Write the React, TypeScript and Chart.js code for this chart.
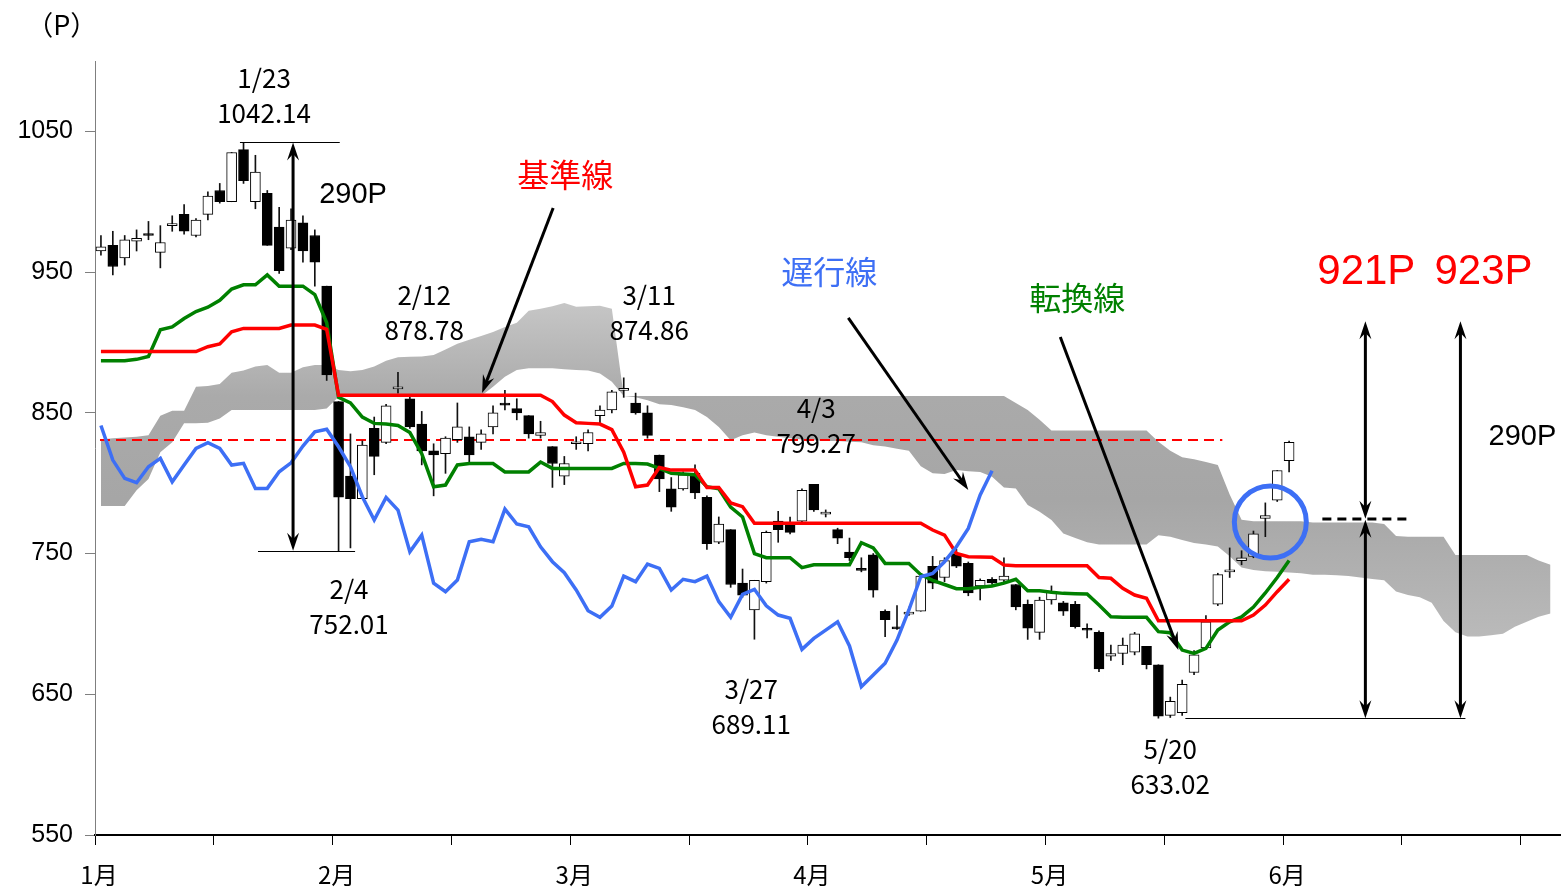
import React, { useEffect, useRef } from "react";
import { Chart, registerables } from "chart.js";

Chart.register(...registerables);

// ---------- axis labels ----------
const monthNames = ["1月", "2月", "3月", "4月", "5月", "6月"];
const xTicks = [0, 10, 20, 30, 40, 50, 60, 70, 80, 90, 100, 110, 120];
const yTicks = [550, 650, 750, 850, 950, 1050];
const X_MAX = 123.3;
const Y_MIN = 550;
const Y_MAX = 1100;

// ---------- candles (daily) ----------
const opens = [
  965, 969, 960, 972, 977, 964, 983, 991, 976, 991,
  1008, 1000, 1037, 1000, 1006, 982, 967, 985, 976, 940,
  858, 805, 789, 839, 829, 867, 860, 842, 823, 821,
  831, 833, 829, 840, 857, 853, 848, 834, 826, 805,
  828, 828, 848, 852, 866, 857, 850, 820, 796, 796,
  807, 790, 758, 767, 729, 710, 730, 773, 772, 773,
  799.27, 778, 767, 751, 739, 749, 709, 697, 707, 709,
  741, 733, 750, 743, 727, 731.6, 731, 728, 714, 694,
  717, 715, 714, 696, 694, 677, 679, 680, 684, 671,
  635, 637, 665.5, 683, 714, 737, 745, 748, 775, 788,
  816,
];
const highs = [
  976, 979, 976, 980, 986, 983, 990, 998, 988, 1007,
  1013, 1035, 1042.14, 1033, 1008, 996, 995, 990, 980, 940,
  858, 835, 830, 847, 856, 878.78, 861, 851, 828, 833,
  857, 840, 838, 855, 866, 860, 848, 844, 826, 819,
  833, 838, 855, 866, 874.86, 864, 855, 820, 804, 808,
  813, 791, 776, 767, 739, 731, 766, 780, 776, 796,
  799.27, 781, 768, 761, 747, 750, 710, 713, 712, 735,
  748, 747, 753, 744, 732, 733, 747, 728, 717, 719,
  727, 716, 716, 700, 695, 685, 690, 694, 684, 671,
  648, 660, 681, 706, 736, 754, 752, 766, 786, 809,
  830,
];
const lows = [
  962, 948, 955, 965, 973, 953, 979, 977, 975, 987,
  999, 1000, 1013, 995, 969, 949, 966, 957, 940, 873,
  752.01, 754, 789, 806, 828, 864, 839, 813, 791, 807,
  829, 814, 824, 835, 852, 845, 832, 832, 797, 799,
  824, 823, 842, 850, 861, 849, 832, 794, 780, 795,
  789, 753, 757, 726, 719, 689.11, 729, 758, 764, 772,
  780, 776, 757, 745, 737, 719, 691, 696, 706, 709,
  725, 730, 740, 720, 717, 728, 730, 710, 689, 689,
  714, 706, 697, 690, 666, 674, 671, 678, 668, 633.02,
  633.5, 635, 664, 682, 713, 733, 742, 747, 762, 787,
  808,
];
const closes = [
  968, 954, 973, 974, 976, 971, 983.5, 979, 987, 1004,
  1000, 1035, 1015, 1021, 969, 951, 987, 965, 957, 877,
  790, 789, 827, 819, 855, 868, 840, 823, 820, 832,
  840, 820, 835, 850, 855.5, 850, 835, 836, 814, 814,
  828.5, 836, 852, 865, 867, 850, 834, 803, 783, 806,
  793, 757, 771, 728, 720.5, 731, 765, 767, 765, 795,
  781, 779.5, 761, 747, 738, 724, 703, 696.5, 708, 734,
  729, 745, 741, 722, 731, 729.2, 734, 712, 697, 717,
  723, 709, 698, 695.5, 668, 679, 685, 693, 671, 634.5,
  645, 657, 678, 701.5, 735, 737.5, 747, 764, 777, 809,
  829,
];

// ---------- ichimoku lines ----------
const tenkan = [
  887, 887, 887, 888, 890, 909, 911, 917, 922, 925,
  930, 938, 941, 941, 948, 940, 940, 940, 934, 914,
  861, 857, 847, 842.5, 842, 841, 836, 821, 797.5, 798.7,
  813, 814, 814, 814, 808, 808, 808, 815, 810.5, 810.5,
  810.5, 810.5, 810.5, 810.5, 814, 814, 813.6, 810.5, 807, 806.5,
  806, 797.5, 796, 783, 776, 750, 747, 747, 747, 740,
  742, 742, 742, 742, 757.7, 754, 743, 743, 743, 735,
  731, 728, 725, 725, 726, 727, 729, 731.7, 723.5, 723.5,
  722.5, 721.7, 721.4, 721.2, 713.4, 705.1, 704.7, 704.7, 704.7, 694.5,
  693.7, 681.4, 679.1, 682.6, 695.6, 701.5, 705, 712, 722, 733,
  745,
];
const kijun = [
  893.5, 893.5, 893.5, 893.5, 893.5, 893.5, 893.5, 893.5, 893.5, 897,
  899, 907.6, 910, 910, 910, 910, 912.4, 912.4, 912.4, 909.3,
  862.5, 862.5, 862.5, 862.5, 862.5, 862.5, 862.5, 862.5, 862.5, 862.5,
  862.5, 862.5, 862.5, 862.5, 862.5, 862.5, 862.5, 862.5, 858, 848.4,
  843, 842.5, 842, 838, 822, 797.5, 798.7, 811.2, 809.3, 809.3,
  809.3, 797, 797, 786, 783.3, 771.5, 771.5, 771.5, 771.5, 771.5,
  771.5, 771.5, 771.5, 771.5, 771.5, 771.5, 771.5, 771.5, 771.5, 771.5,
  766.7, 763.1, 750.1, 747.7, 747.5, 747.3, 741.8, 741.3, 741.3, 741.3,
  741.3, 741.3, 741.3, 741.3, 733, 732.4, 725.3, 720.5, 718.2, 702.2,
  702.2, 702.2, 702.2, 702.2, 702.2, 702.2, 702.2, 706.3, 713.4, 722.9,
  731.7,
];
const chikou = [
  841, 816.4, 803.4, 800.3, 811.7, 817.6, 801, 812.9, 824.7, 828.8,
  824.7, 812.9, 814.1, 796.3, 796.3, 808.1, 814.5, 826.4, 836.5, 838.3,
  825.9, 811.7, 790.4, 773.8, 789.9, 780.9, 751.3, 763.1, 729, 722.9,
  731.2, 758.4, 760.1, 758.4, 781.6, 771, 769, 754.8, 744.2, 736.4,
  724.1, 709.4, 704.7, 712.7, 734, 730, 742.5, 739.5, 724.1, 731.7,
  730, 734, 715.8, 704.7, 721, 724.6, 712.9, 706.3, 704, 681.9,
  689.7, 695.6, 701.5, 684.3, 655.4, 663.7, 672, 688.5, 709.9, 733.5,
  735.9, 744.2, 754.8, 767.9, 791.6, 808.8,
];
const cloudTop = [
  831, 832, 832.5, 833, 834, 848, 851.5, 851.5, 868.5, 869,
  870.5, 878.4, 880, 883, 884, 878.4, 878.4, 882.3, 884, 884,
  880.4, 879.5, 880.4, 883, 887, 889.5, 889.8, 890, 891, 895,
  899, 902, 904.5, 907.5, 911, 914, 922.5, 924, 925.8, 928,
  925.4, 925.8, 926, 924, 862, 862, 862, 862, 862, 862,
  862, 862, 862, 862, 862, 862, 862, 862, 862, 862,
  862, 862, 862, 862, 862, 862, 862, 862, 862, 862,
  862, 862, 862, 862, 862, 862, 862, 857, 852, 845,
  837.5, 837.5, 837.5, 837.5, 837.5, 837.5, 837.5, 837.5, 837.5, 829.5,
  823, 818.5, 817, 815, 813, 792, 774, 773, 773, 773,
  773, 773, 772, 772, 772, 772, 772, 772, 771, 762.5,
  762, 762, 762, 762, 749, 749, 749, 749, 749, 749,
  749, 745, 742,
];
const cloudBottom = [
  783.7, 783.7, 783.7, 795, 803, 822, 829, 842.5, 842.5, 843,
  846, 852, 852, 852, 852, 852, 852, 852, 852, 853,
  861.5, 861.5, 861.5, 861.5, 861.5, 861.5, 861.5, 861.5, 861.5, 861.5,
  861.5, 861.5, 862, 868.5, 875.6, 880.4, 881.6, 881.6, 881.6, 881,
  880.4, 880, 878, 872, 862, 861, 859, 856, 855.5, 854,
  852, 847, 840, 830.5, 834, 836, 834, 833, 832, 831,
  830.5, 830, 830, 829.5, 829, 827, 826, 824.5, 823, 812,
  807, 806.5, 809.3, 808.5, 808, 804.6, 797, 796.3, 784.5, 779.7,
  773.8, 764.3, 761, 758, 756.5, 756.5, 756.5, 756.5, 756.5, 763,
  762, 759.6, 757.5, 756.5, 755, 748, 740, 738.3, 737.5, 737,
  736.5, 736, 735, 735, 734.5, 734, 733, 732, 731, 723,
  720.5, 719, 715, 702, 694, 691, 691, 692, 693, 698,
  701.5, 705, 707.4,
];

// reference level (red dashed) and its span in trading-day units
const refLevel = 830.7;
const refSpan = [0.42, 94.88];

// ---------- annotation content ----------
const BLUE = "#3d6ff5";
const GREEN = "#008000";
const RED = "#ff0000";

type Note = { t: string; x: number; y: number; size: number; color: string; family: string };
const JP = '"Noto Sans CJK JP", sans-serif';
const LAT = '"Liberation Sans", Arial, sans-serif';
const notes: Note[] = [
  { t: "（P）", x: -2.8, y: 1126, size: 27, color: "#000", family: JP },
  { t: "1/23", x: 14.23, y: 1087.9, size: 26, color: "#000", family: JP },
  { t: "1042.14", x: 14.23, y: 1063.1, size: 26, color: "#000", family: JP },
  { t: "2/12", x: 27.7, y: 933.7, size: 26, color: "#000", family: JP },
  { t: "878.78", x: 27.7, y: 908.9, size: 26, color: "#000", family: JP },
  { t: "3/11", x: 46.64, y: 933.7, size: 26, color: "#000", family: JP },
  { t: "874.86", x: 46.64, y: 908.9, size: 26, color: "#000", family: JP },
  { t: "4/3", x: 60.7, y: 853.4, size: 26, color: "#000", family: JP },
  { t: "799.27", x: 60.7, y: 828.6, size: 26, color: "#000", family: JP },
  { t: "2/4", x: 21.38, y: 724.8, size: 26, color: "#000", family: JP },
  { t: "752.01", x: 21.38, y: 699.9, size: 26, color: "#000", family: JP },
  { t: "3/27", x: 55.23, y: 653.7, size: 26, color: "#000", family: JP },
  { t: "689.11", x: 55.23, y: 628.9, size: 26, color: "#000", family: JP },
  { t: "5/20", x: 90.5, y: 611.1, size: 26, color: "#000", family: JP },
  { t: "633.02", x: 90.5, y: 586.2, size: 26, color: "#000", family: JP },
  { t: "290P", x: 21.72, y: 1004.8, size: 29, color: "#000", family: LAT },
  { t: "290P", x: 120.14, y: 832.8, size: 29, color: "#000", family: LAT },
  { t: "基準線", x: 39.57, y: 1019, size: 32, color: RED, family: JP },
  { t: "遅行線", x: 61.8, y: 950.1, size: 32, color: BLUE, family: JP },
  { t: "転換線", x: 82.67, y: 931.6, size: 32, color: GREEN, family: JP },
  { t: "921P", x: 107.0, y: 950.1, size: 42, color: RED, family: LAT },
  { t: "923P", x: 116.86, y: 950.1, size: 42, color: RED, family: LAT },
];

type Seg = { a: [number, number]; b: [number, number]; head: 0 | 1 | 2 };
const arrows: Seg[] = [
  { a: [16.67, 1042.14], b: [16.67, 752.01], head: 2 },
  { a: [38.56, 995.5], b: [32.58, 864.1], head: 1 },
  { a: [63.4, 917.4], b: [73.5, 795.2], head: 1 },
  { a: [81.24, 903.9], b: [91.18, 681.5], head: 1 },
  { a: [106.92, 915], b: [106.92, 774.8], head: 2 },
  { a: [106.92, 774.0], b: [106.92, 633.02], head: 2 },
  { a: [114.92, 915], b: [114.92, 633.02], head: 2 },
];
const thinLines: Seg[] = [
  { a: [12.2, 1042.14], b: [20.6, 1042.14], head: 0 },
  { a: [13.72, 752.01], b: [21.89, 752.01], head: 0 },
  { a: [91.77, 633.02], b: [115.34, 633.02], head: 0 },
];
const midDash: Seg = { a: [103.3, 774.5], b: [110.7, 774.5], head: 0 };
const circleAt: [number, number] = [98.92, 772.4];

function drawHead(ctx: CanvasRenderingContext2D, x1: number, y1: number, x2: number, y2: number) {
  const len = 18;
  const half = 6;
  const ang = Math.atan2(y2 - y1, x2 - x1);
  const c = Math.cos(ang);
  const s = Math.sin(ang);
  const bx = x2 - len * c;
  const by = y2 - len * s;
  const nx = x2 - len * 0.65 * c;
  const ny = y2 - len * 0.65 * s;
  ctx.beginPath();
  ctx.moveTo(x2, y2);
  ctx.lineTo(bx - half * s, by + half * c);
  ctx.lineTo(nx, ny);
  ctx.lineTo(bx + half * s, by - half * c);
  ctx.closePath();
  ctx.fill();
}

const annotationPlugin = {
  id: "ichimokuNotes",
  afterDatasetsDraw(chart: any) {
    const ctx: CanvasRenderingContext2D = chart.ctx;
    const xs = chart.scales.x;
    const ys = chart.scales.y;
    const px = (v: number) => xs.getPixelForValue(v);
    const py = (v: number) => ys.getPixelForValue(v);
    ctx.save();

    // thin reference lines
    ctx.strokeStyle = "#000";
    ctx.lineWidth = 1;
    for (const l of thinLines) {
      ctx.beginPath();
      ctx.moveTo(px(l.a[0]), Math.round(py(l.a[1])) + 0.5);
      ctx.lineTo(px(l.b[0]), Math.round(py(l.b[1])) + 0.5);
      ctx.stroke();
    }

    // dashed black level
    ctx.setLineDash([9, 6]);
    ctx.lineWidth = 3;
    ctx.beginPath();
    ctx.moveTo(px(midDash.a[0]), py(midDash.a[1]));
    ctx.lineTo(px(midDash.b[0]), py(midDash.b[1]));
    ctx.stroke();
    ctx.setLineDash([]);

    // arrows
    ctx.fillStyle = "#000";
    ctx.lineWidth = 3;
    for (const a of arrows) {
      const x1 = px(a.a[0]);
      const y1 = py(a.a[1]);
      const x2 = px(a.b[0]);
      const y2 = py(a.b[1]);
      const ang = Math.atan2(y2 - y1, x2 - x1);
      const inset = 10;
      const sx = a.head === 2 ? x1 + inset * Math.cos(ang) : x1;
      const sy = a.head === 2 ? y1 + inset * Math.sin(ang) : y1;
      const ex = x2 - inset * Math.cos(ang);
      const ey = y2 - inset * Math.sin(ang);
      ctx.beginPath();
      ctx.moveTo(sx, sy);
      ctx.lineTo(ex, ey);
      ctx.stroke();
      drawHead(ctx, x1, y1, x2, y2);
      if (a.head === 2) drawHead(ctx, x2, y2, x1, y1);
    }

    // blue circle
    ctx.strokeStyle = BLUE;
    ctx.lineWidth = 5;
    ctx.beginPath();
    ctx.arc(px(circleAt[0]), py(circleAt[1]), 36, 0, Math.PI * 2);
    ctx.stroke();

    // texts
    ctx.textAlign = "center";
    ctx.textBaseline = "middle";
    for (const n of notes) {
      ctx.font = `${n.size}px ${n.family}`;
      ctx.fillStyle = n.color;
      ctx.fillText(n.t, px(n.x), py(n.y));
    }
    ctx.restore();
  },
};

export default function App() {
  const ref = useRef<HTMLCanvasElement>(null);

  useEffect(() => {
    const canvas = ref.current;
    if (!canvas) return;

    const pos = (i: number) => i + 0.5;
    const wickData = opens.map((_, i) => ({ x: pos(i), y: [lows[i], highs[i]] }));
    const bodyData = opens.map((o, i) => ({ x: pos(i), y: [o, closes[i]] }));
    const bodyFill = opens.map((o, i) => (closes[i] < o ? "#000000" : "#ffffff"));
    const toPts = (arr: number[]) => arr.map((v, i) => ({ x: pos(i), y: v }));

    const cloudFill = (c: any) => {
      const chart = c.chart;
      const area = chart.chartArea;
      if (!area) return "#aaaaaa";
      const y = chart.scales.y;
      const y0 = y.getPixelForValue(935);
      const y1 = y.getPixelForValue(690);
      const g = chart.ctx.createLinearGradient(0, y0, 0, y1);
      g.addColorStop(0, "#c9c9c9");
      g.addColorStop(0.3, "#aaaaaa");
      g.addColorStop(0.6, "#a6a6a6");
      g.addColorStop(1, "#bababa");
      return g;
    };

    const chart = new Chart(canvas, {
      type: "bar",
      data: {
        datasets: [
          {
            type: "line",
            label: "遅行線",
            data: toPts(chikou),
            borderColor: BLUE,
            borderWidth: 3.5,
            pointRadius: 0,
            tension: 0,
            fill: false,
            order: 1,
          } as any,
          {
            type: "line",
            label: "基準線",
            data: toPts(kijun),
            borderColor: RED,
            borderWidth: 3.5,
            pointRadius: 0,
            tension: 0,
            fill: false,
            order: 2,
          } as any,
          {
            type: "line",
            label: "転換線",
            data: toPts(tenkan),
            borderColor: GREEN,
            borderWidth: 3.5,
            pointRadius: 0,
            tension: 0,
            fill: false,
            order: 3,
          } as any,
          {
            type: "bar",
            label: "body",
            data: bodyData,
            backgroundColor: bodyFill,
            borderColor: "#000000",
            borderWidth: 1,
            borderSkipped: false,
            barThickness: 10,
            minBarLength: 2,
            grouped: false,
            order: 4,
          } as any,
          {
            type: "bar",
            label: "wick",
            data: wickData,
            backgroundColor: "#111111",
            borderWidth: 0,
            barThickness: 1,
            grouped: false,
            order: 5,
          } as any,
          {
            type: "line",
            label: "ref",
            data: [
              { x: refSpan[0], y: refLevel },
              { x: refSpan[1], y: refLevel },
            ],
            borderColor: RED,
            borderWidth: 2,
            borderDash: [10, 6],
            pointRadius: 0,
            fill: false,
            order: 6,
          } as any,
          {
            type: "line",
            label: "cloudTop",
            data: toPts(cloudTop),
            borderWidth: 0,
            borderColor: "rgba(0,0,0,0)",
            pointRadius: 0,
            tension: 0,
            fill: false,
            order: 8,
          } as any,
          {
            type: "line",
            label: "cloudBottom",
            data: toPts(cloudBottom),
            borderWidth: 0,
            borderColor: "rgba(0,0,0,0)",
            backgroundColor: cloudFill,
            pointRadius: 0,
            tension: 0,
            fill: "-1",
            order: 7,
          } as any,
        ],
      },
      options: {
        animation: false,
        responsive: false,
        events: [],
        layout: { padding: { left: 0, top: 61, right: 1, bottom: 0 } },
        plugins: {
          legend: { display: false },
          tooltip: { enabled: false },
          title: { display: false },
        },
        scales: {
          x: {
            type: "linear",
            min: 0,
            max: X_MAX,
            offset: false,
            afterBuildTicks: (s: any) => {
              s.ticks = xTicks.map((v) => ({ value: v }));
            },
            afterFit: (s: any) => {
              s.height = 55;
            },
            grid: {
              drawOnChartArea: false,
              drawTicks: true,
              tickLength: 10,
              color: "#000000",
              lineWidth: 1,
              offset: false,
            },
            border: { display: true, color: "#000000", width: 2 },
            ticks: {
              autoSkip: false,
              maxRotation: 0,
              minRotation: 0,
              padding: 15,
              labelOffset: 4,
              color: "#000000",
              font: { family: JP, size: 24 },
              callback: (v: any) => {
                const n = Number(v);
                const k = n / 20;
                return n % 20 === 0 && k < monthNames.length ? monthNames[k] : "";
              },
            },
          },
          y: {
            type: "linear",
            min: Y_MIN,
            max: Y_MAX,
            afterBuildTicks: (s: any) => {
              s.ticks = yTicks.map((v) => ({ value: v }));
            },
            afterFit: (s: any) => {
              s.width = 95;
            },
            grid: {
              drawOnChartArea: false,
              drawTicks: true,
              tickLength: 10,
              color: "#7f7f7f",
              lineWidth: 1,
            },
            border: { display: true, color: "#7f7f7f", width: 1 },
            ticks: {
              padding: 12,
              color: "#000000",
              font: { family: LAT, size: 25 },
              callback: (v: any) => String(v),
            },
          },
        },
      } as any,
      plugins: [annotationPlugin],
    });

    return () => chart.destroy();
  }, []);

  return (
    <div style={{ position: "absolute", left: 0, top: 0, width: 1561, height: 890, background: "#ffffff" }}>
      <canvas ref={ref} width={1561} height={890} style={{ display: "block" }} />
    </div>
  );
}
